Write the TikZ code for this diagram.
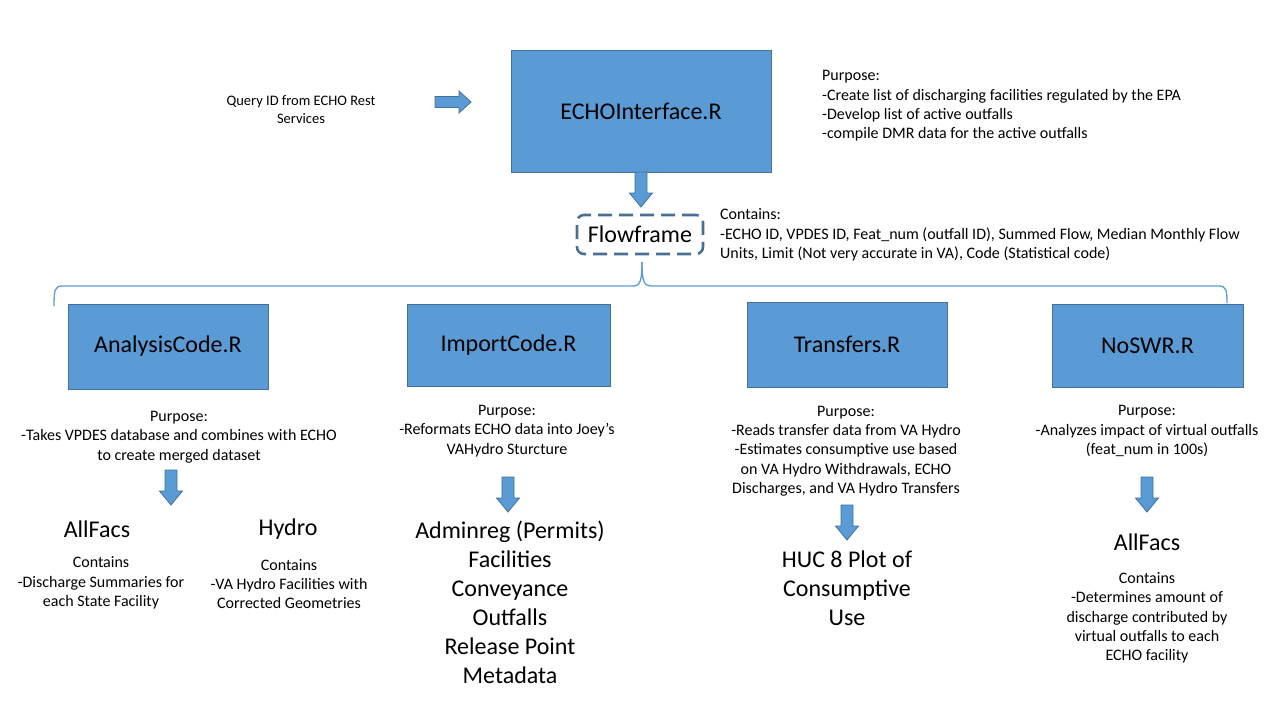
\documentclass[tikz,border=0pt]{standalone}
\usepackage{fontspec}
\setmainfont{Carlito}
\definecolor{boxfill}{HTML}{5B9BD5}
\definecolor{boxline}{HTML}{41719C}
\definecolor{dashline}{HTML}{4A6F94}
\tikzset{
  x=1pt, y=-1pt,
  codebox/.style={draw=boxline, line width=1pt, fill=boxfill, inner sep=0pt,
    font=\fontsize{24}{29}\selectfont},
  small/.style={inner sep=0pt, align=center, font=\fontsize{16}{19.3}\selectfont},
  smallL/.style={inner sep=0pt, align=left, font=\fontsize{16}{19.3}\selectfont},
  big/.style={inner sep=0pt, align=center, font=\fontsize{24}{29}\selectfont},
  barrow/.style={draw=boxline, line width=0.8pt, fill=boxfill},
  bracel/.style={draw=boxfill, line width=1.3pt},
  pics/darr/.style={code={
    \path[barrow] (-6,0) -- (6,0) -- (6,21) -- (11.5,21) -- (0,35) -- (-11.5,21) -- (-6,21) -- cycle;}},
  pics/rarr/.style={code={
    \path[barrow] (0,-5.5) -- (24,-5.5) -- (24,-11) -- (36,0) -- (24,11) -- (24,5.5) -- (0,5.5) -- cycle;}}
}
\begin{document}
\begin{tikzpicture}
\path[use as bounding box, fill=white] (0,0) rectangle (1280,720);

% top row
\node[small, font=\fontsize{14.5}{18}\selectfont] (query) at (301,110) {Query ID from ECHO Rest\\Services};
\pic at (435,102) {rarr};
\node[codebox, minimum width=260, minimum height=122] (echo) at (641,111) {ECHOInterface.R};
\node[smallL, anchor=west] (echopurp) at (822,106) {Purpose:\\-Create list of discharging facilities regulated by the EPA\\-Develop list of active outfalls\\-compile DMR data for the active outfalls};

\pic at (641,172) {darr};

% flowframe
\node[draw=dashline, line width=2.6pt, dash pattern=on 14pt off 7pt, rounded corners=7pt,
  minimum width=126, minimum height=39, inner sep=0pt, font=\fontsize{24}{29}\selectfont]
  (flow) at (640,234.5) {Flowframe};
\node[smallL, anchor=west] (flowcont) at (720,235) {Contains:\\-ECHO ID, VPDES ID, Feat\_num (outfall ID), Summed Flow, Median Monthly Flow\\Units, Limit (Not very accurate in VA), Code (Statistical code)};

% brace
\coordinate (btip) at (642,262);
\coordinate (bl) at (54,306);
\coordinate (br) at (1227,303);
\draw[bracel] (bl) .. controls (54,290) and (55,286) .. (62,286) -- (632,286)
  .. controls (640,286) and (642,282) .. (btip);
\draw[bracel] (btip) .. controls (642,282) and (644,286) .. (652,286) -- (1219,286)
  .. controls (1226,286) and (1227,290) .. (br);

% code boxes
\node[codebox, minimum width=200, minimum height=85] (analysis) at (168,346.5) {AnalysisCode.R};
\node[codebox, minimum width=203, minimum height=82] (import) at (508.5,345) {ImportCode.R};
\node[codebox, minimum width=200, minimum height=85] (transfers) at (847,344.5) {Transfers.R};
\node[codebox, minimum width=191, minimum height=83] (noswr) at (1147.5,345.5) {NoSWR.R};

% column 1
\node[small] (p1) at (179,437) {Purpose:\\-Takes VPDES database and combines with ECHO\\to create merged dataset};
\pic at (171,470) {darr};
\node[big] (allfacs1) at (97,529) {AllFacs};
\node[small] (c1) at (101,583) {Contains\\-Discharge Summaries for\\each State Facility};
\node[big] (hydro) at (288,529) {Hydro};
\node[small] (c2) at (289,584) {Contains\\-VA Hydro Facilities with\\Corrected Geometries};

% column 2
\node[small] (p2) at (507,431) {Purpose:\\-Reformats ECHO data into Joey’s\\VAHydro Sturcture};
\pic at (508,477) {darr};
\node[big] (list2) at (510,602) {Adminreg (Permits)\\Facilities\\Conveyance\\Outfalls\\Release Point\\Metadata};

% column 3
\node[small] (p3) at (846,451) {Purpose:\\-Reads transfer data from VA Hydro\\-Estimates consumptive use based\\on VA Hydro Withdrawals, ECHO\\Discharges, and VA Hydro Transfers};
\pic at (847,505) {darr};
\node[big] (huc) at (847,588) {HUC 8 Plot of\\Consumptive\\Use};

% column 4
\node[small] (p4) at (1147,431) {Purpose:\\-Analyzes impact of virtual outfalls\\(feat\_num in 100s)};
\pic at (1147,477) {darr};
\node[big] (allfacs4) at (1147,542) {AllFacs};
\node[small] (c4) at (1147,618) {Contains\\-Determines amount of\\discharge contributed by\\virtual outfalls to each\\ECHO facility};
\end{tikzpicture}
\end{document}
